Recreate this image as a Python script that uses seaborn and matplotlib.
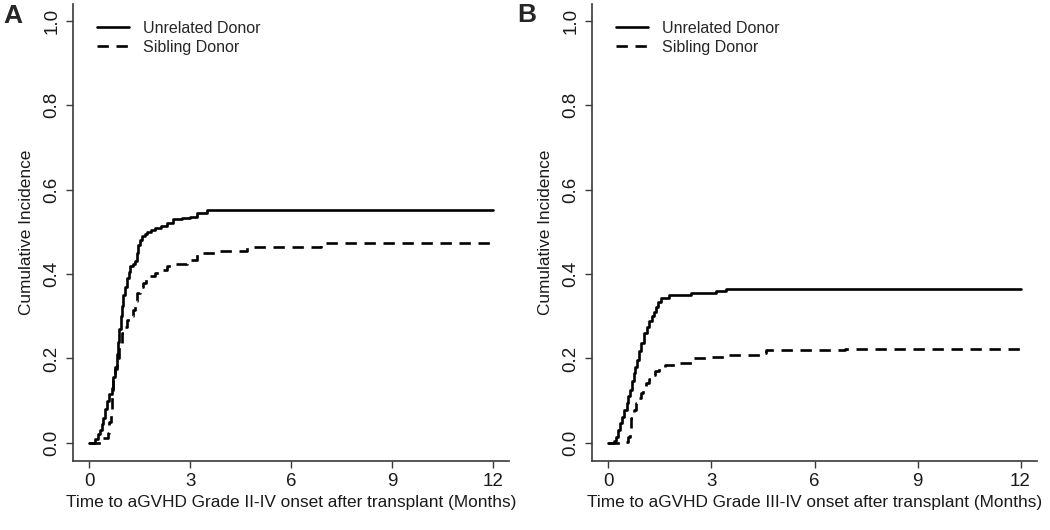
import matplotlib
matplotlib.use("Agg")
import matplotlib.pyplot as plt
import seaborn as sns
import pandas as pd

# ---- data ----
series_labels = ["Unrelated Donor", "Sibling Donor"]
panel_letters = ["A", "B"]
x_labels = ["Time to aGVHD Grade II-IV onset after transplant (Months)",
            "Time to aGVHD Grade III-IV onset after transplant (Months)"]
y_label = "Cumulative Incidence"
x_ticks = [0, 3, 6, 9, 12]
y_ticks = [0.0, 0.2, 0.4, 0.6, 0.8, 1.0]

a_unrel_t = [0, 0.18, 0.27, 0.33, 0.38, 0.42, 0.48, 0.53, 0.60, 0.68, 0.72, 0.77,
             0.82, 0.86, 0.90, 0.95, 0.98, 1.01, 1.07, 1.13, 1.17, 1.22, 1.30, 1.37,
             1.42, 1.46, 1.52, 1.57, 1.65, 1.72, 1.85, 1.96, 2.15, 2.32, 2.5, 2.75,
             3.0, 3.2, 3.5, 12]
a_unrel_v = [0, 0.01, 0.02, 0.03, 0.045, 0.06, 0.08, 0.10, 0.115, 0.13, 0.155, 0.18,
             0.21, 0.24, 0.27, 0.30, 0.325, 0.35, 0.37, 0.39, 0.405, 0.42, 0.425, 0.43,
             0.45, 0.47, 0.48, 0.49, 0.495, 0.50, 0.505, 0.51, 0.515, 0.52, 0.53, 0.532,
             0.535, 0.545, 0.552, 0.552]

a_sib_t = [0, 0.38, 0.56, 0.60, 0.64, 0.68, 0.72, 0.77, 0.82, 0.90, 0.98, 1.05, 1.12,
           1.2, 1.3, 1.36, 1.42, 1.5, 1.6, 1.7, 1.8, 1.95, 2.1, 2.3, 2.5, 2.9, 3.2,
           3.8, 4.7, 6.9, 12]
a_sib_v = [0, 0.012, 0.024, 0.05, 0.08, 0.115, 0.15, 0.175, 0.20, 0.23, 0.26, 0.275,
           0.29, 0.30, 0.315, 0.335, 0.355, 0.37, 0.38, 0.388, 0.395, 0.402, 0.41,
           0.418, 0.425, 0.434, 0.45, 0.455, 0.464, 0.474, 0.474]

b_unrel_t = [0, 0.15, 0.23, 0.29, 0.35, 0.40, 0.44, 0.53, 0.58, 0.64, 0.69, 0.73,
             0.78, 0.82, 0.88, 0.94, 1.02, 1.11, 1.18, 1.26, 1.32, 1.38, 1.45, 1.52,
             1.76, 2.4, 3.13, 3.42, 12]
b_unrel_v = [0, 0.005, 0.015, 0.03, 0.047, 0.062, 0.078, 0.095, 0.11, 0.126, 0.146,
             0.166, 0.18, 0.197, 0.217, 0.237, 0.26, 0.275, 0.288, 0.30, 0.31, 0.322,
             0.333, 0.343, 0.35, 0.355, 0.36, 0.365, 0.365]

b_sib_t = [0, 0.5, 0.58, 0.62, 0.67, 0.73, 0.79, 0.86, 0.94, 1.0, 1.08, 1.17, 1.26,
           1.36, 1.46, 1.66, 2.05, 2.43, 3.0, 3.5, 4.4, 4.6, 6.9, 12]
b_sib_v = [0, 0.003, 0.015, 0.035, 0.06, 0.077, 0.094, 0.106, 0.118, 0.13, 0.142,
           0.152, 0.161, 0.17, 0.178, 0.185, 0.189, 0.2, 0.204, 0.208, 0.213, 0.22,
           0.223, 0.223]

panels = [
    [(a_unrel_t, a_unrel_v), (a_sib_t, a_sib_v)],
    [(b_unrel_t, b_unrel_v), (b_sib_t, b_sib_v)],
]

# ---- styling ----
sns.set_style("white")
plt.rcParams["font.family"] = ["Liberation Sans", "DejaVu Sans"]

fig = plt.figure(figsize=(10.5, 5.3), dpi=100)
axes_rects = [
    [73 / 1050, 1 - 461 / 530, 436 / 1050, 457 / 530],
    [592 / 1050, 1 - 461 / 530, 445 / 1050, 457 / 530],
]
axis_col = "#3a3a3a"
tick_fs = 13.5
lab_fs = 12.4
leg_fs = 11.5
lw = 1.9

for i, rect in enumerate(axes_rects):
    ax = fig.add_axes(rect)
    frames = []
    for lab, (t, v) in zip(series_labels, panels[i]):
        frames.append(pd.DataFrame({"time": t, "ci": v, "donor": lab}))
    df = pd.concat(frames, ignore_index=True)
    sns.lineplot(data=df, x="time", y="ci", hue="donor", style="donor",
                 hue_order=series_labels, style_order=series_labels,
                 palette=["black", "black"],
                 dashes={series_labels[0]: "", series_labels[1]: (4.3, 2.9)},
                 estimator=None, drawstyle="steps-post", linewidth=lw,
                 ax=ax, legend=False)

    ax.set_xlim(-0.48, 12.48)
    ax.set_ylim(-0.043, 1.04)
    ax.set_xticks(x_ticks)
    ax.set_xticklabels([str(x) for x in x_ticks])
    ax.set_yticks(y_ticks)
    ax.set_yticklabels([f"{y:.1f}" for y in y_ticks], rotation=90, va="center")
    ax.tick_params(axis="both", direction="out", length=5, width=1.0,
                   color=axis_col, labelsize=tick_fs, labelcolor="#1a1a1a", pad=4,
                   bottom=True, left=True)
    for s in ["top", "right"]:
        ax.spines[s].set_visible(False)
    for s in ["left", "bottom"]:
        ax.spines[s].set_color(axis_col)
        ax.spines[s].set_linewidth(1.2)
    ax.set_xlabel(x_labels[i], fontsize=lab_fs, color="#1a1a1a", labelpad=3)
    ax.set_ylabel(y_label, fontsize=lab_fs, color="#1a1a1a", labelpad=7)

    handles = ax.get_lines()[:2]
    ax.legend(handles, series_labels, loc="upper left",
              bbox_to_anchor=(0.055, 0.963), frameon=False, fontsize=leg_fs,
              handlelength=2.0, handletextpad=0.85, labelspacing=0.25,
              borderpad=0, borderaxespad=0)

fig.text(3 / 1050, 1 - 16 / 530, panel_letters[0], fontsize=19,
         fontweight="bold", va="center", ha="left")
fig.text(517 / 1050, 1 - 15 / 530, panel_letters[1], fontsize=19,
         fontweight="bold", va="center", ha="left")

fig.savefig("out.png", dpi=100)
